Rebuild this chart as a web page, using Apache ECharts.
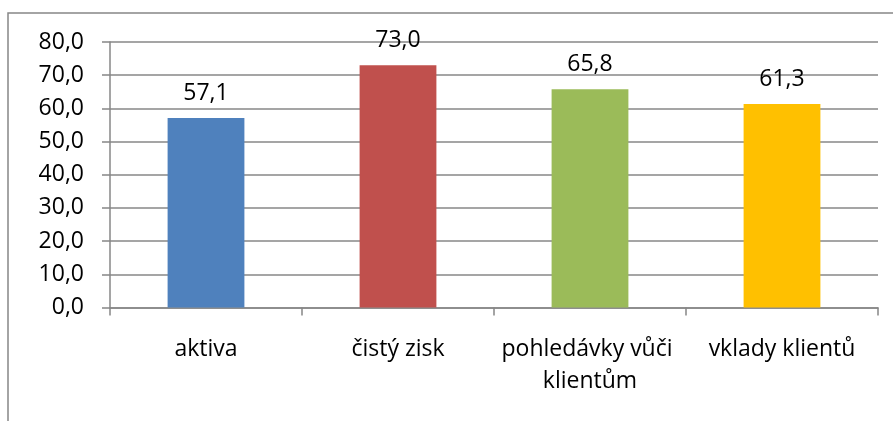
<!DOCTYPE html>
<html>
<head>
<meta charset="utf-8">
<style>
  html, body { margin: 0; padding: 0; background: #ffffff; }
  #chart { width: 893px; height: 421px; }
</style>
<script src="https://cdn.jsdelivr.net/npm/echarts@6/dist/echarts.min.js"></script>
</head>
<body>
<div id="chart"></div>
<script>
// Categories and values (percent)
const categories = ['aktiva', 'čistý zisk', 'pohledávky vůči klientům', 'vklady klientů'];
const values = [57.1, 73.0, 65.8, 61.3];
const barColors = ['#4F81BD', '#C0504D', '#9BBB59', '#FFC000'];
const yTicks = { min: 0, max: 80, interval: 10 };

const fmt = v => Number(v).toFixed(1).replace('.', ',');
const FONT = '"Open Sans", "Noto Sans", sans-serif';
const AXIS_GRAY = '#878787';

const chart = echarts.init(document.getElementById('chart'), null, { renderer: 'canvas' });

chart.setOption({
  animation: false,
  backgroundColor: '#ffffff',
  textStyle: { fontFamily: FONT },
  graphic: [{
    type: 'rect',
    shape: { x: 8, y: 13, width: 900, height: 420 },
    style: { fill: 'none', stroke: AXIS_GRAY, lineWidth: 1.5 },
    silent: true,
    z: -1
  }],
  grid: { left: 110, right: 15, top: 42, bottom: 113.5, containLabel: false },
  xAxis: {
    type: 'category',
    data: categories,
    axisLine: { show: true, lineStyle: { color: AXIS_GRAY, width: 1.5 } },
    axisTick: { show: true, length: 8, lineStyle: { color: AXIS_GRAY, width: 1.5 } },
    axisLabel: {
      color: '#000000',
      fontFamily: FONT,
      fontSize: 23,
      lineHeight: 32,
      margin: 26,
      interval: 0,
      width: 215,
      overflow: 'break'
    },
    splitLine: { show: false }
  },
  yAxis: {
    type: 'value',
    min: yTicks.min,
    max: yTicks.max,
    interval: yTicks.interval,
    axisLine: { show: true, lineStyle: { color: AXIS_GRAY, width: 1.5 } },
    axisTick: { show: true, length: 8, lineStyle: { color: AXIS_GRAY, width: 1.5 } },
    axisLabel: {
      color: '#000000',
      fontFamily: FONT,
      fontSize: 23,
      margin: 26,
      formatter: v => fmt(v)
    },
    splitLine: { show: true, lineStyle: { color: AXIS_GRAY, width: 1.5 } }
  },
  series: [{
    type: 'bar',
    data: values.map((v, i) => ({ value: v, itemStyle: { color: barColors[i] } })),
    barWidth: '40%',
    label: {
      show: true,
      position: 'top',
      distance: 13,
      color: '#000000',
      fontFamily: FONT,
      fontSize: 23,
      formatter: p => fmt(p.value)
    }
  }]
});
</script>
</body>
</html>
